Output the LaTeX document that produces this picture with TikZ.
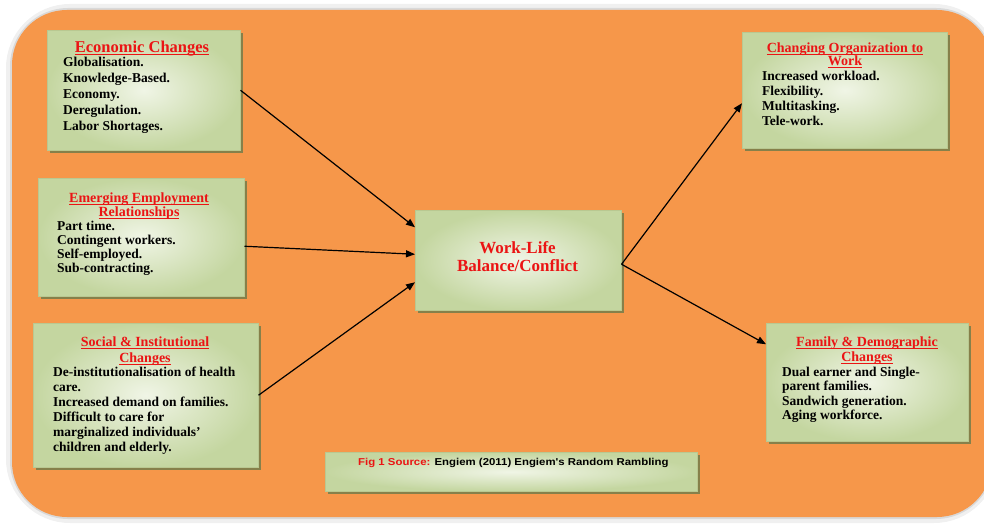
\documentclass[tikz,border=0pt]{standalone}
\usepackage{fontspec}
\setmainfont{Liberation Serif}
\newfontfamily\srcfont[FakeStretch=1.14]{Liberation Sans}
\usetikzlibrary{arrows.meta,shadows}
\definecolor{orangebg}{RGB}{246,151,74}
\definecolor{boxin}{RGB}{240,245,230}
\definecolor{boxout}{RGB}{196,214,160}
\definecolor{boxline}{RGB}{185,200,145}
\definecolor{shadowc}{RGB}{115,125,75}
\definecolor{titlered}{RGB}{235,20,20}
\newcommand\redul[1]{\leavevmode\setbox0\hbox{#1}\rlap{\rule[-2.4pt]{\wd0}{0.9pt}}\box0}
\begin{document}
\begin{tikzpicture}[x=1pt,y=-1pt,
  greenbox/.style={draw=boxline, line width=0.5pt, inner sep=0pt, anchor=north west,
    inner color=boxin, outer color=boxout,
    drop shadow={shadow xshift=3pt, shadow yshift=-3pt, fill=shadowc, opacity=0.85}},
  titletext/.style={anchor=base, inner sep=0pt, text=titlered, font=\bfseries},
  bodytext/.style={anchor=base west, inner sep=0pt, font=\bfseries},
  link/.style={-{Triangle[length=9pt,width=7pt]}, line width=1.2pt, black}]
\useasboundingbox (0,0) rectangle (984,526);
% outer panel
\draw[gray!12, line width=12pt, rounded corners=58pt] (12,10) rectangle (992,517);
\draw[gray!30, line width=4pt, rounded corners=56pt] (12,10) rectangle (992,517);
\fill[orangebg, rounded corners=55pt] (12,10) rectangle (992,517);

% boxes
\node[greenbox, minimum width=193pt, minimum height=120pt] (econ) at (47,30) {};
\node[greenbox, minimum width=206pt, minimum height=118pt] (emerg) at (38,178) {};
\node[greenbox, minimum width=225pt, minimum height=144pt] (social) at (33,323) {};
\node[greenbox, minimum width=206pt, minimum height=100pt] (center) at (415,210) {};
\node[greenbox, minimum width=205pt, minimum height=116pt] (chorg) at (742,32) {};
\node[greenbox, minimum width=202pt, minimum height=118pt] (family) at (766,323) {};
\node[greenbox, minimum width=372pt, minimum height=39pt] (source) at (325,452) {};

% texts
\node[titletext] (econT) at (142,53) {\parbox[t]{220pt}{\centering\fontsize{16.5}{16}\selectfont\lineskiplimit=-20pt
  \redul{Economic Changes}}};
\node[bodytext] (econB) at (63,67) {\parbox[t]{200pt}{\raggedright\fontsize{13.5}{16}\selectfont\lineskiplimit=-20pt
  Globalisation.\\Knowledge-Based.\\Economy.\\Deregulation.\\Labor Shortages.}};

\node[titletext] (emergT) at (139,203) {\parbox[t]{220pt}{\centering\fontsize{14}{13.5}\selectfont\lineskiplimit=-20pt
  \redul{Emerging Employment}\\\redul{Relationships}}};
\node[bodytext] (emergB) at (57,231) {\parbox[t]{200pt}{\raggedright\fontsize{13.5}{14}\selectfont\lineskiplimit=-20pt
  Part time.\\Contingent workers.\\Self-employed.\\Sub-contracting.}};

\node[titletext] (socialT) at (145,346) {\parbox[t]{220pt}{\centering\fontsize{14}{16}\selectfont\lineskiplimit=-20pt
  \redul{Social \& Institutional}\\\redul{Changes}}};
\node[bodytext] (socialB) at (53,376) {\parbox[t]{220pt}{\raggedright\fontsize{13.5}{15}\selectfont\lineskiplimit=-20pt
  De-institutionalisation of health\\care.\\Increased demand on families.\\Difficult to care for\\marginalized individuals'\\children and elderly.}};

\node[titletext] (centerT) at (517.5,254) {\parbox[t]{220pt}{\centering\fontsize{17}{18}\selectfont\lineskiplimit=-20pt
  Work-Life\\Balance/Conflict}};

\node[titletext] (chorgT) at (845,53) {\parbox[t]{220pt}{\centering\fontsize{14}{12.5}\selectfont\lineskiplimit=-20pt
  \redul{Changing Organization to}\\\redul{Work}}};
\node[bodytext] (chorgB) at (762,81) {\parbox[t]{200pt}{\raggedright\fontsize{13.5}{15}\selectfont\lineskiplimit=-20pt
  Increased workload.\\Flexibility.\\Multitasking.\\Tele-work.}};

\node[titletext] (familyT) at (867,346) {\parbox[t]{220pt}{\centering\fontsize{14}{15}\selectfont\lineskiplimit=-20pt
  \redul{Family \& Demographic}\\\redul{Changes}}};
\node[bodytext] (familyB) at (782,376) {\parbox[t]{200pt}{\raggedright\fontsize{13.5}{14.5}\selectfont\lineskiplimit=-20pt
  Dual earner and Single-\\parent families.\\Sandwich generation.\\Aging workforce.}};

\node[anchor=base west, inner sep=0pt] (sourceT) at (358,465) {\srcfont\bfseries\fontsize{10}{12}\selectfont
  \textcolor{titlered}{Fig 1 Source:} Engiem (2011) Engiem's Random Rambling};

% connectors
\draw[link] (econ.east) -- ([yshift=33pt]center.west);
\draw[link] ([yshift=-9pt]emerg.east) -- ([yshift=6pt]center.west);
\draw[link] (social.east) -- ([yshift=-22pt]center.west);
\draw[link] ([yshift=-4pt]center.east) -- ([yshift=-13pt]chorg.west);
\draw[link] ([yshift=-4pt]center.east) -- ([yshift=38pt]family.west);
\end{tikzpicture}
\end{document}
